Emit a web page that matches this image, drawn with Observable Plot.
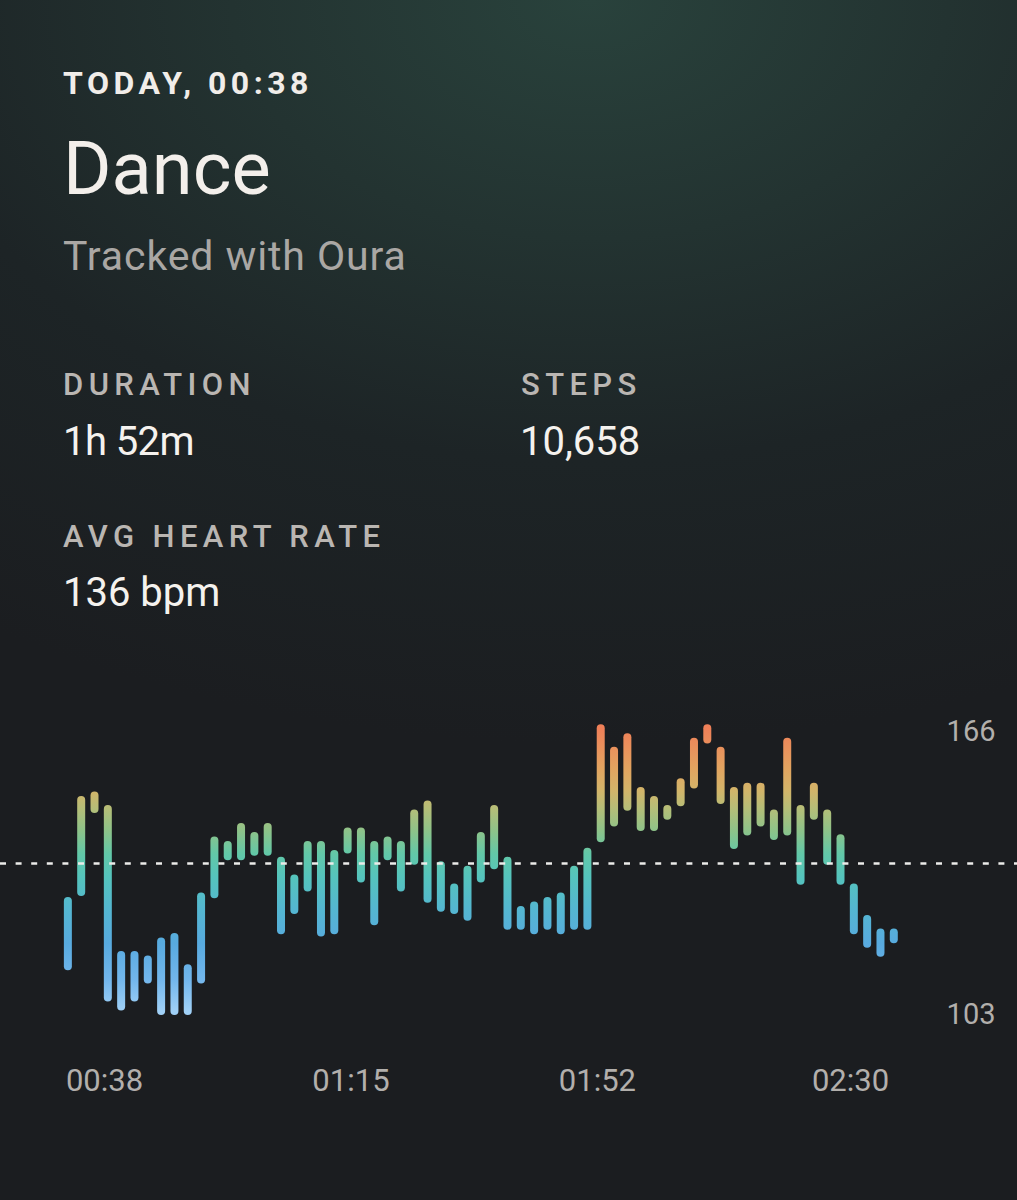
<!DOCTYPE html>
<html>
<head>
<meta charset="utf-8">
<script src="https://cdn.jsdelivr.net/npm/d3@7"></script>
<script src="https://cdn.jsdelivr.net/npm/@observablehq/plot@0.6"></script>
<style>
  html, body { margin: 0; padding: 0; }
  body {
    width: 1017px; height: 1200px; overflow: hidden; position: relative;
    font-family: Roboto, "Noto Sans", sans-serif;
    background: radial-gradient(ellipse 110% 62% at 58% 0%, #29423c 0%, #233331 32%, #1d2426 62%, #1b1d20 100%);
  }
  .t { position: absolute; left: 63px; line-height: 1; white-space: nowrap; }
  .lbl { font-size: 31px; font-weight: 500; letter-spacing: 5.4px; color: #bab6b2; }
  .val { font-size: 40px; color: #f5f2ee; }
  #chart { position: absolute; left: 0; top: 680px; }
</style>
</head>
<body>
<div class="t" style="top:66.5px;font-size:32px;font-weight:700;letter-spacing:4.5px;color:#f1ede9;">TODAY, 00:38</div>
<div class="t" style="top:131.5px;font-size:74px;font-weight:400;color:#f3efeb;">Dance</div>
<div class="t" style="top:236px;font-size:41px;letter-spacing:0.9px;color:#aaa7a4;">Tracked with Oura</div>
<div class="t lbl" style="top:368.5px;">DURATION</div>
<div class="t val" style="top:421.5px;letter-spacing:-0.6px;">1h 52m</div>
<div class="t lbl" style="left:521px;top:368.5px;">STEPS</div>
<div class="t val" style="left:520px;top:421.5px;">10,658</div>
<div class="t lbl" style="top:521px;">AVG HEART RATE</div>
<div class="t val" style="top:573px;">136 bpm</div>
<div id="chart"></div>
<script>
// Heart-rate range per 2-minute interval (bpm)
const hrLow = [113,129.5,148,106,104,106,110,103,103,103,110,129,137.5,137.5,138.5,138.5,121,125.5,130.5,120.5,121,139,132.5,123,137.5,130.5,136.5,128,126,125.5,124,132.5,135.5,122,122,121,122,121,122,122,141.5,145,148.5,144,144,146.5,149.5,153.5,163.5,150,140,143,145,142,143,132,146.5,136.5,132,121,118,116,119];
const hrHigh = [127.5,150,151,148,115.5,115.5,114.5,118.5,119.5,112.5,128.5,141,140,144,142,144,136.5,132.5,140,140,138,143,143,140,141,140,147,149,135.5,130.5,134.5,142,148,136.5,125.5,126.5,127.5,128.5,134.5,138.5,166,161,164,152,150,148,154,163,166,161,152,153,153,147,163,148,153,147,141.5,130.5,123.5,120.5,120.5];
const startMinute = 32.5;     // minutes after midnight of first interval
const intervalMinutes = 2;
const avgHR = 136;
const tickMinutes = [38, 75, 112, 150];
const tickLabels = ["00:38", "01:15", "01:52", "02:30"];
const yLabels = [166, 103];
const gradientStops = [
  [166, "#ef8058"], [162, "#ea905c"], [157, "#e2a460"], [152, "#d2b56a"],
  [148, "#b4be78"], [143, "#8cc38a"], [138, "#62c8a8"], [133, "#55c4bc"],
  [126, "#54b7d0"], [118, "#58aadf"], [110, "#72b6ec"], [103, "#a0d0f6"]
];

const data = hrLow.map((lo, i) => ({ t: startMinute + i * intervalMinutes, lo, hi: hrHigh[i] }));

const plot = Plot.plot({
  width: 1017,
  height: 440,
  marginLeft: 0,
  marginRight: 0,
  marginTop: 48.3,
  marginBottom: 109,
  style: { background: "transparent", fontFamily: "Roboto, sans-serif", color: "#b2afac", overflow: "visible" },
  x: { type: "linear", domain: [38, 150], range: [104, 850], axis: null },
  y: { domain: [103, 166], axis: null },
  marks: [
    Plot.ruleX(data, { x: "t", y1: "lo", y2: "hi", stroke: "url(#hrGrad)", strokeWidth: 8, strokeLinecap: "round" }),
    Plot.ruleY([avgHR], { stroke: "#ecebe9", strokeWidth: 2.5, strokeDasharray: "6,9.6" }),
    Plot.axisX({ ticks: tickMinutes, tickFormat: (d) => tickLabels[tickMinutes.indexOf(d)], tickSize: 0, tickPadding: 57, fontSize: 31, fill: "#b2afac", label: null }),
    Plot.text(yLabels, { y: d => d, text: d => String(d), frameAnchor: "right", textAnchor: "end", dx: -22, dy: 3, fontSize: 29, fill: "#b2afac" })
  ]
});

const ys = plot.scale("y");
const ns = "http://www.w3.org/2000/svg";
const defs = document.createElementNS(ns, "defs");
const grad = document.createElementNS(ns, "linearGradient");
grad.setAttribute("id", "hrGrad");
grad.setAttribute("gradientUnits", "userSpaceOnUse");
grad.setAttribute("x1", 0); grad.setAttribute("x2", 0);
grad.setAttribute("y1", ys.apply(166)); grad.setAttribute("y2", ys.apply(103));
for (const [v, c] of gradientStops) {
  const s = document.createElementNS(ns, "stop");
  s.setAttribute("offset", (166 - v) / (166 - 103));
  s.setAttribute("stop-color", c);
  grad.appendChild(s);
}
defs.appendChild(grad);
plot.insertBefore(defs, plot.firstChild);
document.getElementById("chart").appendChild(plot);
</script>
</body>
</html>
